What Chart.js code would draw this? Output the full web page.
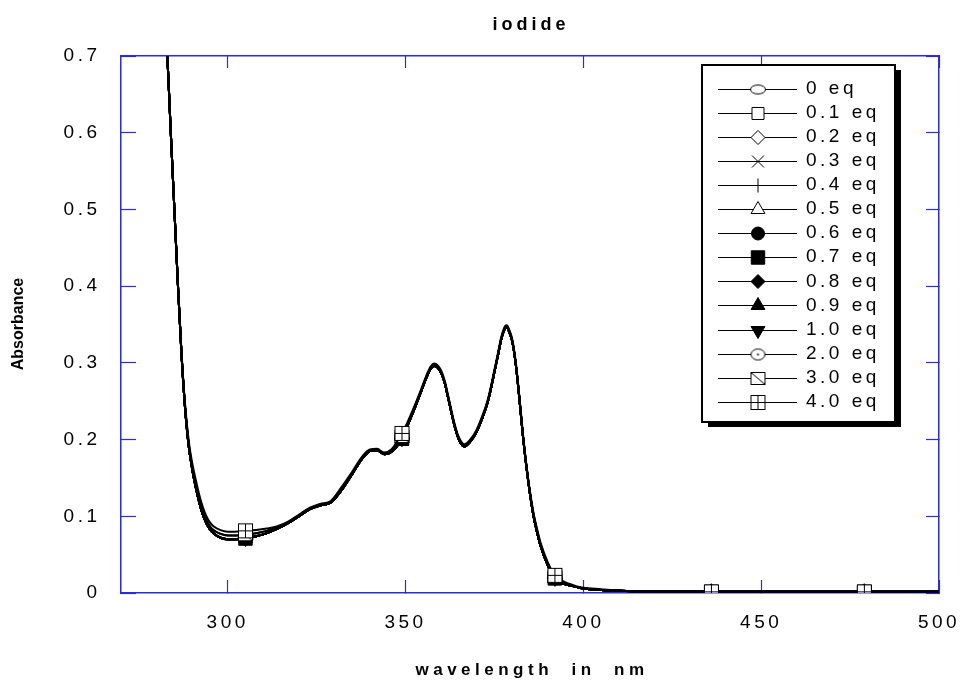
<!DOCTYPE html>
<html>
<head>
<meta charset="utf-8">
<title>iodide</title>
<script src="https://cdn.jsdelivr.net/npm/chart.js@4.4.1/dist/chart.umd.min.js"></script>
<style>
  html, body { margin: 0; padding: 0; background: #fff; }
  #chart { display: block; }
</style>
</head>
<body>
<canvas id="chart" width="963" height="685"></canvas>
<script>
// Spectrum readings (wavelength in nm, absorbance)
const wavelengths = [
    281, 283, 284, 285, 286, 287, 288, 289, 290, 291,
    292, 293, 294, 295, 296, 298, 300, 302, 305, 308,
    311, 314, 317, 320, 323, 326, 329, 332, 335, 338,
    340, 342, 344, 346, 349, 350, 352, 354, 356, 357,
    358, 359, 360, 361, 362, 363, 364, 365, 366.5, 368,
    370, 372, 373, 374, 375, 376, 377, 378, 378.5, 379,
    380, 381, 382, 383, 384, 385, 386, 387, 388, 390,
    392, 394, 396, 398, 400, 405, 410, 420, 436, 450,
    465, 479, 490, 500
];

// 0 eq ... 1.0 eq
const absLow = [
    0.800, 0.700, 0.600, 0.501, 0.402, 0.312, 0.242, 0.193, 0.162, 0.138,
    0.118, 0.102, 0.091, 0.083, 0.078, 0.072, 0.070, 0.070, 0.071, 0.074,
    0.078, 0.084, 0.091, 0.100, 0.109, 0.114, 0.118, 0.134, 0.155, 0.176,
    0.185, 0.186, 0.181, 0.184, 0.201, 0.212, 0.234, 0.258, 0.282, 0.292,
    0.296, 0.294, 0.287, 0.274, 0.254, 0.233, 0.214, 0.200, 0.191, 0.196,
    0.210, 0.233, 0.247, 0.266, 0.288, 0.310, 0.332, 0.345, 0.346, 0.342,
    0.328, 0.298, 0.254, 0.205, 0.164, 0.129, 0.100, 0.079, 0.061, 0.036,
    0.019, 0.013, 0.010, 0.008, 0.006, 0.004, 0.003, 0.002, 0.0015, 0.0015,
    0.0015, 0.0015, 0.0015, 0.0015
];

// 2.0 eq, 3.0 eq
const absMid = [
    0.800, 0.700, 0.600, 0.501, 0.403, 0.313, 0.244, 0.196, 0.165, 0.142,
    0.122, 0.106, 0.095, 0.087, 0.082, 0.077, 0.075, 0.075, 0.076, 0.078,
    0.081, 0.086, 0.092, 0.101, 0.110, 0.115, 0.119, 0.135, 0.156, 0.177,
    0.186, 0.187, 0.182, 0.185, 0.204, 0.214, 0.236, 0.259, 0.283, 0.293,
    0.297, 0.295, 0.288, 0.275, 0.255, 0.234, 0.215, 0.201, 0.192, 0.197,
    0.211, 0.234, 0.248, 0.267, 0.289, 0.311, 0.333, 0.346, 0.347, 0.343,
    0.329, 0.299, 0.255, 0.206, 0.165, 0.130, 0.102, 0.081, 0.063, 0.038,
    0.021, 0.014, 0.011, 0.008, 0.006, 0.004, 0.003, 0.002, 0.0015, 0.0015,
    0.0015, 0.0015, 0.0015, 0.0015
];

// 4.0 eq
const absHigh = [
    0.800, 0.700, 0.600, 0.502, 0.404, 0.315, 0.247, 0.200, 0.170, 0.148,
    0.128, 0.112, 0.100, 0.092, 0.087, 0.082, 0.080, 0.080, 0.081, 0.082,
    0.084, 0.087, 0.093, 0.102, 0.111, 0.116, 0.120, 0.138, 0.158, 0.179,
    0.187, 0.188, 0.183, 0.187, 0.208, 0.217, 0.238, 0.261, 0.285, 0.295,
    0.299, 0.297, 0.290, 0.277, 0.257, 0.236, 0.217, 0.203, 0.194, 0.199,
    0.213, 0.236, 0.250, 0.269, 0.291, 0.313, 0.335, 0.348, 0.349, 0.345,
    0.331, 0.301, 0.257, 0.208, 0.167, 0.132, 0.104, 0.083, 0.065, 0.040,
    0.023, 0.016, 0.012, 0.009, 0.007, 0.005, 0.003, 0.002, 0.0015, 0.0015,
    0.0015, 0.0015, 0.0015, 0.0015
];

const seriesLabels = ['0 eq', '0.1 eq', '0.2 eq', '0.3 eq', '0.4 eq', '0.5 eq', '0.6 eq',
    '0.7 eq', '0.8 eq', '0.9 eq', '1.0 eq', '2.0 eq', '3.0 eq', '4.0 eq'];
const seriesValues = [absLow, absLow, absLow, absLow, absLow, absLow, absLow,
    absLow, absLow, absLow, absLow, absMid, absMid, absHigh];

const markerWavelengths = [305, 349, 392, 436, 479];
const xTicks = [300, 350, 400, 450, 500];
const yTicks = [0, 0.1, 0.2, 0.3, 0.4, 0.5, 0.6, 0.7];

const FONT = "'Liberation Sans', Arial, sans-serif";
const BLUE = '#2b2bdc';

// small canvases for the marker shapes Chart.js doesn't have
function markerCanvas(w, h, draw) {
    const c = document.createElement('canvas');
    c.width = w;
    c.height = h;
    const g = c.getContext('2d');
    g.strokeStyle = '#000';
    g.fillStyle = '#fff';
    g.lineWidth = 1;
    draw(g);
    return c;
}

const ellipseImg = markerCanvas(18, 12, g => {
    g.beginPath();
    g.ellipse(9, 6, 7.5, 4.5, 0, 0, Math.PI * 2);
    g.fill();
    g.stroke();
});
const circleDotImg = markerCanvas(17, 14, g => {
    g.beginPath();
    g.ellipse(8.5, 7, 7, 5.5, 0, 0, Math.PI * 2);
    g.fill();
    g.stroke();
    g.fillStyle = '#000';
    g.beginPath();
    g.arc(8.5, 7, 1, 0, Math.PI * 2);
    g.fill();
});
const squareDiagImg = markerCanvas(17, 15, g => {
    g.fillRect(1.5, 1.5, 14, 12);
    g.strokeRect(1.5, 1.5, 14, 12);
    g.beginPath();
    g.moveTo(1.5, 1.5);
    g.lineTo(15.5, 13.5);
    g.stroke();
});
const squareGridImg = markerCanvas(17, 17, g => {
    g.fillRect(1.5, 1.5, 14, 14);
    g.strokeRect(1.5, 1.5, 14, 14);
    g.beginPath();
    g.moveTo(8.5, 1.5);
    g.lineTo(8.5, 15.5);
    g.moveTo(1.5, 8.5);
    g.lineTo(15.5, 8.5);
    g.stroke();
});

const markerStyles = [
    { style: ellipseImg, radius: 7, fill: '#fff' },
    { style: 'rect', radius: 8.5, fill: '#fff' },
    { style: 'rectRot', radius: 7, fill: '#fff' },
    { style: 'crossRot', radius: 8.5, fill: '#fff' },
    { style: 'cross', radius: 7, fill: '#fff' },
    { style: 'triangle', radius: 8, fill: '#fff' },
    { style: 'circle', radius: 6.5, fill: '#000' },
    { style: 'rect', radius: 9.5, fill: '#000' },
    { style: 'rectRot', radius: 7, fill: '#000' },
    { style: 'triangle', radius: 8, fill: '#000' },
    { style: 'triangle', radius: 8, fill: '#000', rotation: 180 },
    { style: circleDotImg, radius: 7, fill: '#fff' },
    { style: squareDiagImg, radius: 7, fill: '#fff' },
    { style: squareGridImg, radius: 7, fill: '#fff' }
];

const datasets = seriesLabels.map((label, i) => ({
    label: label,
    data: wavelengths.map((w, j) => ({ x: w, y: seriesValues[i][j] })),
    borderColor: '#000',
    borderWidth: 2,
    cubicInterpolationMode: 'monotone',
    pointStyle: markerStyles[i].style,
    pointRotation: markerStyles[i].rotation || 0,
    pointBackgroundColor: markerStyles[i].fill,
    pointBorderColor: '#000',
    pointBorderWidth: 1,
    pointRadius: ctx => markerWavelengths.includes(wavelengths[ctx.dataIndex]) ? markerStyles[i].radius : 0,
    order: seriesLabels.length - i
}));

// letter spaced tick labels, titles and the boxed legend
const decorations = {
    id: 'decorations',
    beforeDraw(chart) {
        chart.ctx.letterSpacing = '3.5px';
    },
    afterDraw(chart) {
        const ctx = chart.ctx;
        ctx.save();
        ctx.fillStyle = '#000';
        ctx.textBaseline = 'middle';

        // titles
        ctx.letterSpacing = '4px';
        ctx.font = 'bold 18px ' + FONT;
        ctx.textAlign = 'center';
        ctx.fillText('iodide', 531, 25);
        ctx.letterSpacing = '4.5px';
        ctx.font = 'bold 17px ' + FONT;
        ctx.fillText('wavelength  in  nm', 532, 670);

        ctx.letterSpacing = '0px';
        ctx.font = 'bold 16px ' + FONT;
        ctx.save();
        ctx.translate(19, 324);
        ctx.rotate(-Math.PI / 2);
        ctx.fillText('Absorbance', 0, 0);
        ctx.restore();

        // legend box with shadow
        ctx.fillStyle = '#000';
        ctx.fillRect(708, 70, 193, 357);
        ctx.fillStyle = '#fff';
        ctx.fillRect(702, 65, 193, 357);
        ctx.strokeStyle = '#000';
        ctx.lineWidth = 2;
        ctx.strokeRect(702, 65, 193, 357);

        ctx.font = '19px ' + FONT;
        ctx.textAlign = 'left';
        ctx.letterSpacing = '3.5px';
        seriesLabels.forEach((label, i) => {
            const y = 88.5 + i * 24.1;
            ctx.strokeStyle = '#000';
            ctx.lineWidth = 1;
            ctx.beginPath();
            ctx.moveTo(718, Math.round(y) + 0.5);
            ctx.lineTo(797, Math.round(y) + 0.5);
            ctx.stroke();

            const m = markerStyles[i];
            ctx.fillStyle = m.fill;
            Chart.helpers.drawPoint(ctx, {
                pointStyle: m.style,
                radius: m.radius,
                rotation: m.rotation || 0,
                borderWidth: 1
            }, 758, Math.round(y) + 0.5);

            ctx.fillStyle = '#000';
            ctx.fillText(label, 806, y);
        });
        ctx.restore();
        ctx.letterSpacing = '0px';
    }
};

const tickMarks = (len) => ({
    display: true,
    drawOnChartArea: false,
    drawTicks: true,
    tickLength: -len,
    tickColor: BLUE,
    tickWidth: 1.2
});

new Chart(document.getElementById('chart'), {
    type: 'line',
    data: { datasets: datasets },
    options: {
        responsive: false,
        animation: false,
        events: [],
        layout: { padding: { top: 56, right: 24, left: 0, bottom: 0 } },
        plugins: {
            legend: { display: false },
            title: { display: false },
            tooltip: { enabled: false }
        },
        scales: {
            x: {
                type: 'linear',
                position: 'bottom',
                min: 270,
                max: 500,
                afterBuildTicks: scale => { scale.ticks = xTicks.map(v => ({ value: v })); },
                afterFit: scale => {
                    scale.height = 92;
                    scale.paddingLeft = 0;
                    scale.paddingRight = 0;
                },
                grid: tickMarks(13),
                border: { color: BLUE, width: 1.5 },
                ticks: {
                    color: '#000',
                    font: { family: FONT, size: 19 },
                    padding: 31.5,
                    maxRotation: 0
                }
            },
            y: {
                type: 'linear',
                position: 'left',
                min: 0,
                max: 0.7,
                afterBuildTicks: scale => { scale.ticks = yTicks.map(v => ({ value: v })); },
                afterFit: scale => {
                    scale.width = 121;
                    scale.paddingTop = 0;
                    scale.paddingBottom = 0;
                },
                grid: tickMarks(15),
                border: { color: BLUE, width: 1.5 },
                ticks: {
                    color: '#000',
                    font: { family: FONT, size: 19 },
                    padding: 35.5,
                    callback: v => v === 0 ? '0' : v.toFixed(1)
                }
            },
            xTop: {
                type: 'linear',
                position: 'top',
                min: 270,
                max: 500,
                afterBuildTicks: scale => { scale.ticks = xTicks.map(v => ({ value: v })); },
                afterFit: scale => { scale.height = 0; },
                grid: tickMarks(12),
                border: { color: BLUE, width: 1.5 },
                ticks: { display: false }
            },
            yRight: {
                type: 'linear',
                position: 'right',
                min: 0,
                max: 0.7,
                afterBuildTicks: scale => { scale.ticks = yTicks.map(v => ({ value: v })); },
                afterFit: scale => { scale.width = 0; },
                grid: tickMarks(13),
                border: { color: BLUE, width: 1.5 },
                ticks: { display: false }
            }
        }
    },
    plugins: [decorations]
});
</script>
</body>
</html>
